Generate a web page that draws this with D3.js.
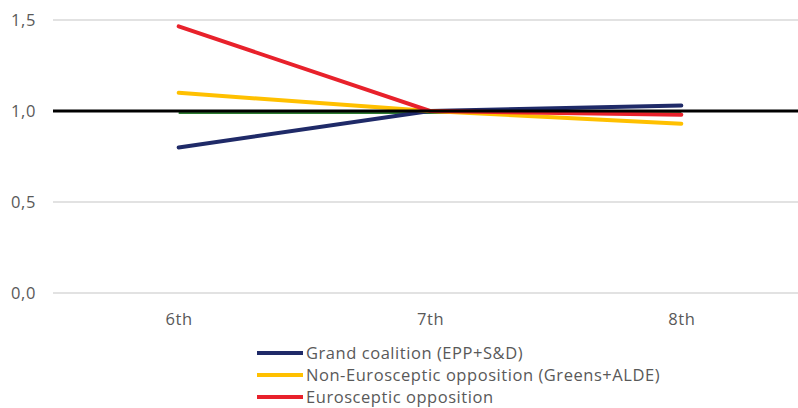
<!DOCTYPE html>
<html>
<head>
<meta charset="utf-8">
<script src="https://cdn.jsdelivr.net/npm/d3@7/dist/d3.min.js"></script>
<style>
  html, body { margin: 0; padding: 0; background: #ffffff; }
  svg { display: block; }
  text { font-family: "Open Sans", "Noto Sans", sans-serif; fill: #595959; }
</style>
</head>
<body>
<svg id="chart" width="798" height="408"></svg>
<script>
// Parliamentary terms on the x axis
const terms = ["6th", "7th", "8th"];

// Ratio per term for each group (7th term = 1,0)
const grandCoalition = [0.80, 1.00, 1.03];
const nonEurosceptic = [1.10, 1.00, 0.93];
const eurosceptic = [1.465, 1.00, 0.98];
const baselineGreen = [1.00, 1.00, 1.00];

// Y axis ticks
const yTicks = [0, 0.5, 1.0, 1.5];

const seriesNames = [
  "Grand coalition (EPP+S&D)",
  "Non-Eurosceptic opposition (Greens+ALDE)",
  "Eurosceptic opposition"
];
const seriesColors = ["#1f2a68", "#ffc000", "#e8212b"];

const svg = d3.select("#chart");
const W = 798, H = 408;
const plot = { left: 53, right: 807, top: 20, bottom: 293 };

const x = d3.scalePoint().domain(terms).range([plot.left, plot.right]).padding(0.5);
const y = d3.scaleLinear().domain([0, 1.5]).range([plot.bottom, plot.top]);

const fmt = d => d3.format(".1f")(d).replace(".", ",");

// Horizontal gridlines
svg.append("g")
  .selectAll("line")
  .data(yTicks)
  .join("line")
  .attr("x1", plot.left).attr("x2", W)
  .attr("y1", d => y(d)).attr("y2", d => y(d))
  .attr("stroke", "#d9d9d9").attr("stroke-width", 1.5);

// Y axis labels
const yAxis = d3.axisLeft(y).tickValues(yTicks).tickFormat(fmt).tickSize(0).tickPadding(0);
const gy = svg.append("g").attr("transform", `translate(${plot.left - 17},0)`).call(yAxis);
gy.select(".domain").remove();
gy.selectAll("text").attr("font-size", 16.5).attr("fill", "#595959")
  .attr("letter-spacing", 0.6)
  .style("font-family", "'Open Sans', sans-serif");

// X axis labels
const xAxis = d3.axisBottom(x).tickSize(0).tickPadding(0);
const gx = svg.append("g").attr("transform", `translate(0,${plot.bottom + 20})`).call(xAxis);
gx.select(".domain").remove();
gx.selectAll("text").attr("font-size", 16.5).attr("fill", "#595959")
  .attr("letter-spacing", 0.6)
  .style("font-family", "'Open Sans', sans-serif");

const line = d3.line().x((d, i) => x(terms[i])).y(d => y(d));

// Green reference series sitting just under the black 1,0 line
svg.append("path")
  .datum(baselineGreen)
  .attr("d", line)
  .attr("transform", "translate(0,1.5)")
  .attr("fill", "none").attr("stroke", "#2e7d32").attr("stroke-width", 3);

const series = [grandCoalition, nonEurosceptic, eurosceptic];
svg.append("g")
  .selectAll("path")
  .data(series)
  .join("path")
  .attr("d", line)
  .attr("fill", "none")
  .attr("stroke", (d, i) => seriesColors[i])
  .attr("stroke-width", 4)
  .attr("stroke-linecap", "round");

// Black reference line at 1,0 across the plot
svg.append("line")
  .attr("x1", plot.left).attr("x2", W)
  .attr("y1", y(1)).attr("y2", y(1))
  .attr("stroke", "#000000").attr("stroke-width", 3);

// Legend
const legend = svg.append("g").attr("transform", "translate(257,353)");
const rows = legend.selectAll("g")
  .data(seriesNames)
  .join("g")
  .attr("transform", (d, i) => `translate(0,${i * 22})`);
rows.append("line")
  .attr("x1", 0).attr("x2", 46).attr("y1", 0).attr("y2", 0)
  .attr("stroke", (d, i) => seriesColors[i]).attr("stroke-width", 4);
rows.append("text")
  .attr("x", 49).attr("y", 0).attr("dy", "0.35em")
  .attr("font-size", 16.5).attr("letter-spacing", 0.55).attr("fill", "#595959")
  .text(d => d);
</script>
</body>
</html>
